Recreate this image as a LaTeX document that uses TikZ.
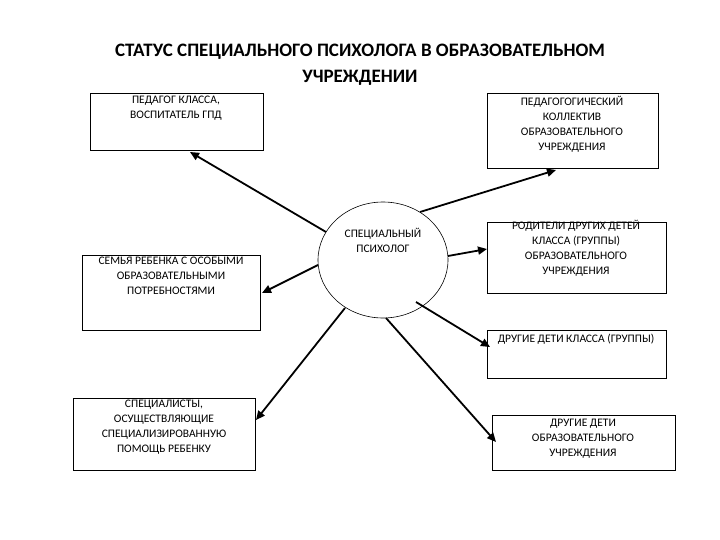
\documentclass[tikz,border=0pt]{standalone}
\usepackage{fontspec}
\setmainfont{Carlito}
\usetikzlibrary{arrows.meta}
\begin{document}
\begin{tikzpicture}[x=1pt,y=-1pt,
  box/.style={draw,line width=0.6pt,anchor=north west,inner sep=0},
  txt/.style={anchor=north,align=center,font=\fontsize{11.5}{15}\selectfont,inner sep=1pt},
  arr/.style={line width=1.8pt,-{Triangle[length=9pt,width=8pt]}}]
\useasboundingbox (0,0) rectangle (720,540);
\node[font=\bfseries\fontsize{19}{26}\selectfont,align=center] (title) at (360,65) {СТАТУС СПЕЦИАЛЬНОГО ПСИХОЛОГА В ОБРАЗОВАТЕЛЬНОМ\\УЧРЕЖДЕНИИ};
\node[box,minimum width=173pt,minimum height=57pt] (b1) at (90,93) {};
\node[txt] (t1) at (176,95) {ПЕДАГОГ КЛАССА,\\ВОСПИТАТЕЛЬ ГПД};
\node[box,minimum width=171pt,minimum height=75pt] (b2) at (487,93) {};
\node[txt] (t2) at (572,95) {ПЕДАГОГОГИЧЕСКИЙ\\КОЛЛЕКТИВ\\ОБРАЗОВАТЕЛЬНОГО\\УЧРЕЖДЕНИЯ};
\node[box,minimum width=178pt,minimum height=75pt] (b3) at (82,255) {};
\node[txt] (t3) at (171,256) {СЕМЬЯ РЕБЕНКА С ОСОБЫМИ\\ОБРАЗОВАТЕЛЬНЫМИ\\ПОТРЕБНОСТЯМИ};
\node[box,minimum width=179pt,minimum height=71pt] (b4) at (487,222) {};
\node[txt] (t4) at (576,219) {РОДИТЕЛИ ДРУГИХ ДЕТЕЙ\\КЛАССА (ГРУППЫ)\\ОБРАЗОВАТЕЛЬНОГО\\УЧРЕЖДЕНИЯ};
\node[box,minimum width=179pt,minimum height=48pt] (b5) at (487,330) {};
\node[txt] (t5) at (576,333) {ДРУГИЕ ДЕТИ КЛАССА (ГРУППЫ)};
\node[box,minimum width=182pt,minimum height=72pt] (b6) at (73,398) {};
\node[txt] (t6) at (164,399) {СПЕЦИАЛИСТЫ,\\ОСУЩЕСТВЛЯЮЩИЕ\\СПЕЦИАЛИЗИРОВАННУЮ\\ПОМОЩЬ РЕБЕНКУ};
\node[box,minimum width=183pt,minimum height=55pt] (b7) at (492,415) {};
\node[txt] (t7) at (583,418) {ДРУГИЕ ДЕТИ\\ОБРАЗОВАТЕЛЬНОГО\\УЧРЕЖДЕНИЯ};
\draw[line width=0.6pt] (383,260) ellipse [x radius=65, y radius=58];
\coordinate (e) at (383,260);
\node[txt] (te) at (383,227) {СПЕЦИАЛЬНЫЙ\\ПСИХОЛОГ};
\coordinate (e1) at (326,232); \coordinate (p1) at (190,152);
\coordinate (e2) at (420,212); \coordinate (p2) at (556,170);
\coordinate (e3) at (318,265); \coordinate (p3) at (262,293);
\coordinate (e4) at (448,256); \coordinate (p4) at (487,249);
\coordinate (e5) at (416,302); \coordinate (p5) at (490,347);
\coordinate (e6) at (345,308); \coordinate (p6) at (256,420);
\coordinate (e7) at (386,318); \coordinate (p7) at (496,442);
\foreach \i in {1,...,7} \draw[arr] (e\i) -- (p\i);
\end{tikzpicture}
\end{document}
